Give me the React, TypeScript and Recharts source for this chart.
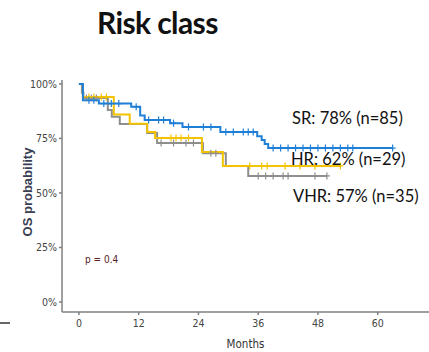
import { Line, LineChart, XAxis, YAxis } from "recharts";

// Kaplan-Meier step events: [months, OS %]
const srEvents: [number, number][] = [
  [0, 100], [0.8, 92.5], [4, 91], [10.5, 89.5], [12.3, 85.5], [13.2, 83.5],
  [18.3, 82], [20.8, 80.3], [28.4, 78], [35.8, 76], [36.7, 74.3], [37.3, 72.5], [38, 70.6],
];
const srCensored = [2, 3, 5, 6.5, 8, 11.5, 14, 16, 17, 19, 22, 25, 26.5, 29.5, 31, 33, 34, 35, 39, 40.5, 42, 43.5, 45, 46.5, 48, 49.5, 51, 52.5, 54, 55, 63];

const hrEvents: [number, number][] = [
  [0, 100], [0.8, 94], [7, 86], [10.2, 81.7], [13.7, 78], [15.3, 75.2], [24.7, 68.8], [28.9, 62.4],
];
const hrCensored = [2, 3, 4.5, 5.5, 18.5, 19.5, 20.5, 22, 34.3, 36.7, 37.8, 41.4, 44.4, 47.4, 52.5];

const vhrEvents: [number, number][] = [
  [0, 100], [0.6, 96], [0.9, 93.5], [5.8, 88], [6.6, 85], [8.2, 81.6], [13.7, 77.5],
  [15.7, 72.9], [24.9, 68.2], [29.5, 62.4], [34, 57.8],
];
const vhrCensored = [1.5, 2.5, 3.5, 16.5, 19, 21.5, 23, 26.5, 27.5, 36, 37.5, 39, 41, 42, 47.4, 49.8];

const xTicks = [0, 12, 24, 36, 48, 60];
const yTicks = [0, 25, 50, 75, 100];

const BLUE = "#1f7fd6";
const YELLOW = "#f3c300";
const GREY = "#8e8e8e";
const NARROW = "'Liberation Sans Narrow', 'DejaVu Sans Condensed', Arial, sans-serif";

// merge events and censor times into one step series
function buildSeries(events: [number, number][], censored: number[]) {
  const pts = events.map(([t, s]) => ({ t, s, c: false }));
  censored.forEach((t) => {
    let s = events[0][1];
    events.forEach(([et, es]) => {
      if (et <= t) s = es;
    });
    pts.push({ t, s, c: true });
  });
  return pts.sort((a, b) => a.t - b.t);
}

const srData = buildSeries(srEvents, srCensored);
const hrData = buildSeries(hrEvents, hrCensored);
const vhrData = buildSeries(vhrEvents, vhrCensored);

const plusDot = (color: string) => (p: any) => {
  const { cx, cy, payload, index } = p;
  if (!payload?.c || cx == null) return <g key={index} />;
  return (
    <path
      key={index}
      d={`M${cx - 3},${cy}H${cx + 3}M${cx},${cy - 3.5}V${cy + 3.5}`}
      stroke={color}
      strokeWidth={1.2}
    />
  );
};

export default function App() {
  return (
    <div style={{ position: "fixed", left: 0, top: 0, width: 429, height: 352, background: "#fff", overflow: "hidden" }}>
      <div
        style={{
          position: "absolute",
          left: 97,
          top: 4,
          fontFamily: "Lato, 'Open Sans', sans-serif",
          fontWeight: 700,
          fontSize: 30,
          color: "#111",
          letterSpacing: -0.6,
        }}
      >
        Risk class
      </div>

      <LineChart width={429} height={352} margin={{ top: 80, right: 0, left: 0, bottom: 0 }}>
        <XAxis
          dataKey="t"
          type="number"
          domain={[-3.4, 70.3]}
          allowDataOverflow
          ticks={xTicks}
          tickSize={3}
          tickMargin={5}
          height={40}
          stroke="#808080"
          strokeWidth={1.5}
          tick={{ fill: "#444", fontSize: 10.5, fontFamily: NARROW }}
          label={{ value: "Months", position: "insideBottom", offset: 4, fill: "#333", fontSize: 11.5, fontFamily: NARROW }}
        />
        <YAxis
          type="number"
          domain={[-4.6, 101.8]}
          allowDataOverflow
          ticks={yTicks}
          tickFormatter={(v) => `${v}%`}
          tickSize={3}
          tickMargin={2}
          width={62}
          stroke="#808080"
          strokeWidth={1.5}
          tick={{ fill: "#444", fontSize: 10.5, fontFamily: NARROW }}
        />
        <Line data={vhrData} dataKey="s" type="stepAfter" stroke={GREY} strokeWidth={2} dot={plusDot(GREY)} activeDot={false} isAnimationActive={false} />
        <Line data={hrData} dataKey="s" type="stepAfter" stroke={YELLOW} strokeWidth={2} dot={plusDot(YELLOW)} activeDot={false} isAnimationActive={false} />
        <Line data={srData} dataKey="s" type="stepAfter" stroke={BLUE} strokeWidth={2} dot={plusDot(BLUE)} activeDot={false} isAnimationActive={false} />
      </LineChart>

      <div
        style={{
          position: "absolute",
          left: 27,
          top: 192,
          transform: "translate(-50%, -50%) rotate(-90deg)",
          whiteSpace: "nowrap",
          fontFamily: "Arial, 'Liberation Sans', sans-serif",
          fontWeight: 700,
          fontSize: 13,
          color: "#3a3f55",
        }}
      >
        OS probability
      </div>

      <div style={{ position: "absolute", left: 85, top: 254, fontFamily: NARROW, fontSize: 10, color: "#5a2323" }}>p = 0.4</div>

      {[
        { text: "SR: 78% (n=85)", left: 292, top: 108 },
        { text: "HR: 62% (n=29)", left: 291, top: 149 },
        { text: "VHR: 57% (n=35)", left: 293, top: 186 },
      ].map((a) => (
        <div
          key={a.text}
          style={{ position: "absolute", left: a.left, top: a.top, fontFamily: "Lato, 'Open Sans', sans-serif", fontSize: 16.5, color: "#111", whiteSpace: "nowrap" }}
        >
          {a.text}
        </div>
      ))}

      <div style={{ position: "absolute", left: 0, top: 322, width: 10, height: 2, background: "#666" }} />
    </div>
  );
}
